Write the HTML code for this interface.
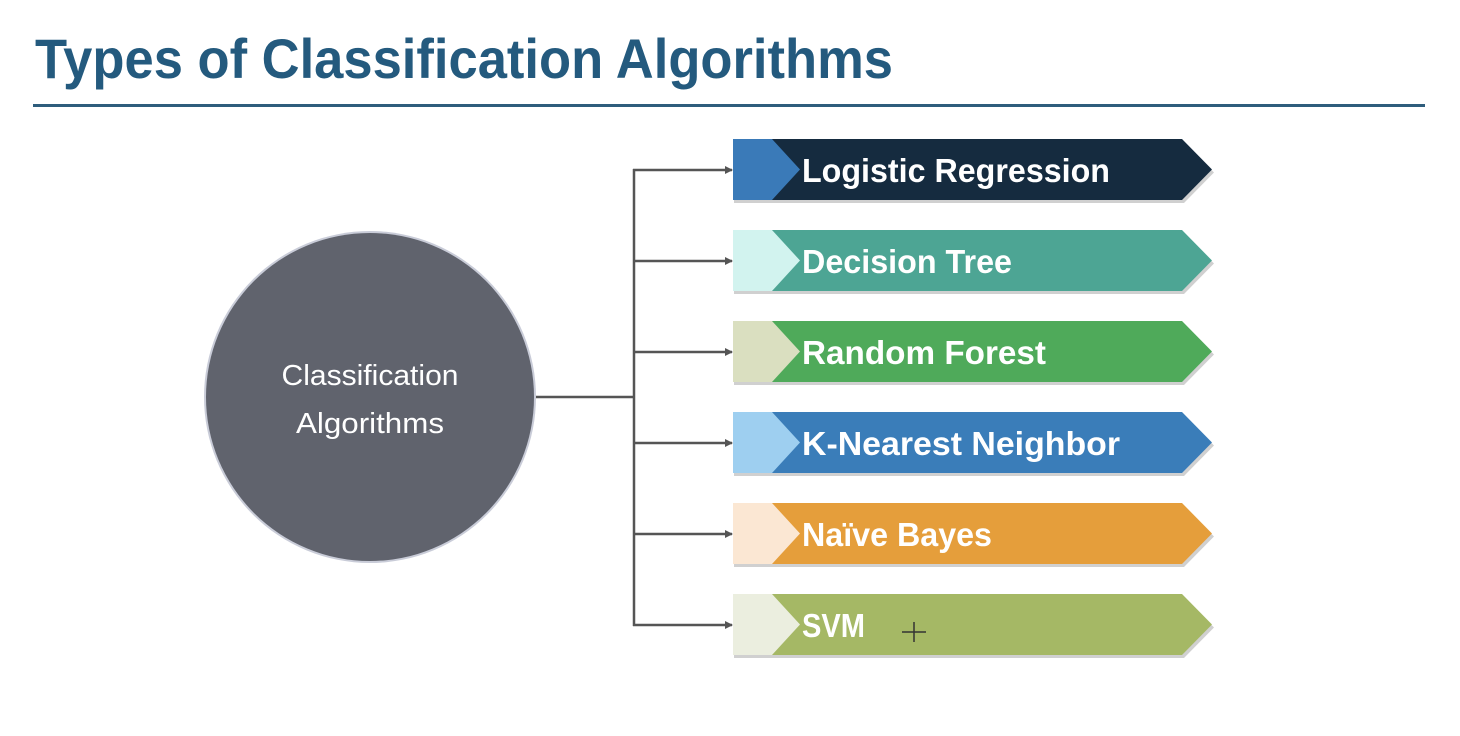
<!DOCTYPE html>
<html><head><meta charset="utf-8"><style>
html,body{margin:0;padding:0;background:#fff;}
svg{display:block;}
</style></head><body>
<svg width="1460" height="736" viewBox="0 0 1460 736" xmlns="http://www.w3.org/2000/svg">
<defs>
<marker id="ar" markerWidth="8" markerHeight="8" refX="7" refY="4" orient="auto" markerUnits="userSpaceOnUse">
<path d="M0,0 L8,4 L0,8 z" fill="#555"/>
</marker>
</defs>
<text x="35" y="78" font-family="Liberation Sans, sans-serif" font-weight="bold" font-size="56" fill="#245a7e" textLength="858" lengthAdjust="spacingAndGlyphs">Types of Classification Algorithms</text>
<rect x="33" y="104" width="1392" height="3" fill="#2e5d7c"/>

<circle cx="370" cy="397" r="166" fill="#c9ccd8"/>
<circle cx="370" cy="397" r="164" fill="#60636d"/>
<text x="370" y="385" text-anchor="middle" font-family="Liberation Sans, sans-serif" font-size="29" fill="#fff" textLength="177" lengthAdjust="spacingAndGlyphs">Classification</text>
<text x="370" y="433" text-anchor="middle" font-family="Liberation Sans, sans-serif" font-size="29" fill="#fff" textLength="148" lengthAdjust="spacingAndGlyphs">Algorithms</text>

<g stroke="#555" stroke-width="2.5" fill="none">
<line x1="536" y1="397" x2="634" y2="397"/>
<line x1="634" y1="169" x2="634" y2="626"/>
<line x1="633" y1="170" x2="732" y2="170" marker-end="url(#ar)"/>
<line x1="633" y1="261" x2="732" y2="261" marker-end="url(#ar)"/>
<line x1="633" y1="352" x2="732" y2="352" marker-end="url(#ar)"/>
<line x1="633" y1="443" x2="732" y2="443" marker-end="url(#ar)"/>
<line x1="633" y1="534" x2="732" y2="534" marker-end="url(#ar)"/>
<line x1="633" y1="625" x2="732" y2="625" marker-end="url(#ar)"/>
</g>

<g font-family="Liberation Sans, sans-serif" font-weight="bold" font-size="33" fill="#fff">
<!-- row template: top t, height 61 -->
<g transform="translate(0,139)">
<path d="M734,3 L1184,3 L1214,33.5 L1184,64 L734,64 z" fill="#d0d0d0"/>
<path d="M733,0 L1182,0 L1212,30.5 L1182,61 L733,61 z" fill="#152b3f"/>
<path d="M733,0 L772,0 L800,30.5 L772,61 L733,61 z" fill="#3a7ab8"/>
<text x="802" y="43" textLength="308" lengthAdjust="spacingAndGlyphs">Logistic Regression</text>
</g>
<g transform="translate(0,230)">
<path d="M734,3 L1184,3 L1214,33.5 L1184,64 L734,64 z" fill="#d0d0d0"/>
<path d="M733,0 L1182,0 L1212,30.5 L1182,61 L733,61 z" fill="#4da594"/>
<path d="M733,0 L772,0 L800,30.5 L772,61 L733,61 z" fill="#d2f3ef"/>
<text x="802" y="43" textLength="210" lengthAdjust="spacingAndGlyphs">Decision Tree</text>
</g>
<g transform="translate(0,321)">
<path d="M734,3 L1184,3 L1214,33.5 L1184,64 L734,64 z" fill="#d0d0d0"/>
<path d="M733,0 L1182,0 L1212,30.5 L1182,61 L733,61 z" fill="#4faa5a"/>
<path d="M733,0 L772,0 L800,30.5 L772,61 L733,61 z" fill="#dadfc0"/>
<text x="802" y="43" textLength="244" lengthAdjust="spacingAndGlyphs">Random Forest</text>
</g>
<g transform="translate(0,412)">
<path d="M734,3 L1184,3 L1214,33.5 L1184,64 L734,64 z" fill="#d0d0d0"/>
<path d="M733,0 L1182,0 L1212,30.5 L1182,61 L733,61 z" fill="#3a7db9"/>
<path d="M733,0 L772,0 L800,30.5 L772,61 L733,61 z" fill="#9ecff0"/>
<text x="802" y="43" textLength="318" lengthAdjust="spacingAndGlyphs">K-Nearest Neighbor</text>
</g>
<g transform="translate(0,503)">
<path d="M734,3 L1184,3 L1214,33.5 L1184,64 L734,64 z" fill="#d0d0d0"/>
<path d="M733,0 L1182,0 L1212,30.5 L1182,61 L733,61 z" fill="#e59e3b"/>
<path d="M733,0 L772,0 L800,30.5 L772,61 L733,61 z" fill="#fbe7d3"/>
<text x="802" y="43" textLength="190" lengthAdjust="spacingAndGlyphs">Naïve Bayes</text>
</g>
<g transform="translate(0,594)">
<path d="M734,3 L1184,3 L1214,33.5 L1184,64 L734,64 z" fill="#d0d0d0"/>
<path d="M733,0 L1182,0 L1212,30.5 L1182,61 L733,61 z" fill="#a5b865"/>
<path d="M733,0 L772,0 L800,30.5 L772,61 L733,61 z" fill="#ebeedf"/>
<text x="802" y="43" textLength="63" lengthAdjust="spacingAndGlyphs">SVM</text>
</g>
</g>
<g stroke="#333" stroke-width="1.5">
<line x1="914" y1="622" x2="914" y2="642"/>
<line x1="902" y1="632" x2="926" y2="632"/>
</g>
</svg>
</body></html>
